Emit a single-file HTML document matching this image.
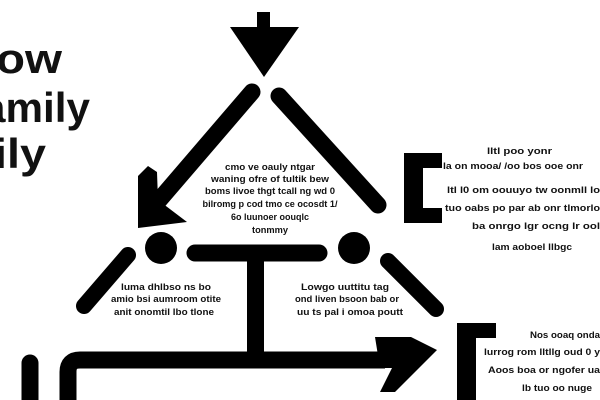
<!DOCTYPE html>
<html><head><meta charset="utf-8"><style>
html,body{margin:0;padding:0;background:#fff;}
svg{display:block}
text{font-family:"Liberation Sans",sans-serif;font-weight:bold;fill:#111;}
</style></head><body>
<svg width="600" height="400" viewBox="0 0 600 400" xmlns="http://www.w3.org/2000/svg">
<rect width="600" height="400" fill="#fff"/>
<g fill="#000" stroke="#000" stroke-linecap="round" fill-rule="nonzero">
<!-- top arrow -->
<rect x="257" y="12" width="13" height="18" stroke="none"/>
<polygon points="230,27 299,27 264,77" stroke="none"/>
<!-- left diagonal with arrowhead -->
<line x1="252" y1="92" x2="155" y2="205" stroke-width="17"/>
<polygon points="138,176 148,166 157,172 158,200 187,222 138,228" stroke="none"/>
<!-- right diagonal -->
<line x1="279" y1="96" x2="378" y2="205" stroke-width="17"/>
<!-- circles & bar -->
<circle cx="161" cy="248" r="16" stroke="none"/>
<circle cx="354" cy="248" r="16" stroke="none"/>
<line x1="195" y1="253" x2="319" y2="253" stroke-width="17"/>
<rect x="247" y="258" width="17" height="100" stroke="none"/>
<!-- lower diagonals -->
<line x1="128" y1="255" x2="84" y2="306" stroke-width="16"/>
<line x1="388" y1="261" x2="436" y2="309" stroke-width="16"/>
<!-- bottom arrow path -->
<path d="M68,400 L68,372 Q68,360 80,360 L385,360" fill="none" stroke-width="17" stroke-linecap="butt"/>
<polygon points="375,337 411,337 437,350 395,392 380,392 392,368 380,368" stroke="none"/>
<!-- far left vertical -->
<line x1="30" y1="363" x2="30" y2="405" stroke-width="17"/>
<!-- right brackets -->
<path d="M442,153 L404,153 L404,223 L442,223 L442,208 L423,208 L423,168 L442,168 Z" stroke="none"/>
<path d="M496,323 L457,323 L457,400 L476,400 L476,338 L496,338 Z" stroke="none"/>
</g>
<!-- title -->
<text x="-4" y="73" font-size="42" textLength="66" lengthAdjust="spacingAndGlyphs">ow</text>
<text x="-18" y="122" font-size="42" textLength="108" lengthAdjust="spacingAndGlyphs">amily</text>
<text x="-6" y="168" font-size="42" textLength="52" lengthAdjust="spacingAndGlyphs">ily</text>
<!-- centre block -->
<g font-size="9" text-anchor="middle">
<text x="270" y="170" textLength="90" lengthAdjust="spacingAndGlyphs">cmo ve oauly ntgar</text>
<text x="270" y="182" textLength="118" lengthAdjust="spacingAndGlyphs">waning ofre of tultik bew</text>
<text x="270" y="194" textLength="130" lengthAdjust="spacingAndGlyphs">boms livoe thgt tcall ng wd 0</text>
<text x="270" y="207" textLength="135" lengthAdjust="spacingAndGlyphs">bilromg p cod tmo ce ocosdt 1/</text>
<text x="270" y="220" textLength="78" lengthAdjust="spacingAndGlyphs">6o luunoer oouqlc</text>
<text x="270" y="233" textLength="36" lengthAdjust="spacingAndGlyphs">tonmmy</text>
<text x="166" y="290" textLength="90" lengthAdjust="spacingAndGlyphs">luma dhlbso ns bo</text>
<text x="166" y="302" textLength="110" lengthAdjust="spacingAndGlyphs">amio bsi aumroom otite</text>
<text x="164" y="315" textLength="100" lengthAdjust="spacingAndGlyphs">anit onomtil lbo tlone</text>
<text x="345" y="290" textLength="88" lengthAdjust="spacingAndGlyphs">Lowgo uuttitu tag</text>
<text x="347" y="302" textLength="104" lengthAdjust="spacingAndGlyphs">ond liven bsoon bab or</text>
<text x="350" y="315" textLength="106" lengthAdjust="spacingAndGlyphs">uu ts pal i omoa poutt</text>
</g>
<!-- right block -->
<g font-size="9">
<text x="487" y="154" textLength="65" lengthAdjust="spacingAndGlyphs">lltl poo yonr</text>
<text x="443" y="169" textLength="140" lengthAdjust="spacingAndGlyphs">la on mooa/ /oo bos ooe onr</text>
<text x="447" y="193" textLength="153" lengthAdjust="spacingAndGlyphs">ltl l0 om oouuyo tw oonmll lo</text>
<text x="445" y="211" textLength="155" lengthAdjust="spacingAndGlyphs">tuo oabs po par ab onr tlmorlo</text>
<text x="472" y="229" textLength="128" lengthAdjust="spacingAndGlyphs">ba onrgo lgr ocng lr ool</text>
<text x="492" y="250" textLength="80" lengthAdjust="spacingAndGlyphs">lam aoboel llbgc</text>
<text x="530" y="338" textLength="70" lengthAdjust="spacingAndGlyphs">Nos ooaq onda</text>
<text x="484" y="355" textLength="116" lengthAdjust="spacingAndGlyphs">lurrog rom lltllg oud 0 y</text>
<text x="488" y="373" textLength="112" lengthAdjust="spacingAndGlyphs">Aoos boa or ngofer ua</text>
<text x="522" y="391" textLength="70" lengthAdjust="spacingAndGlyphs">lb tuo oo nuge</text>
</g>
</svg>
</body></html>
